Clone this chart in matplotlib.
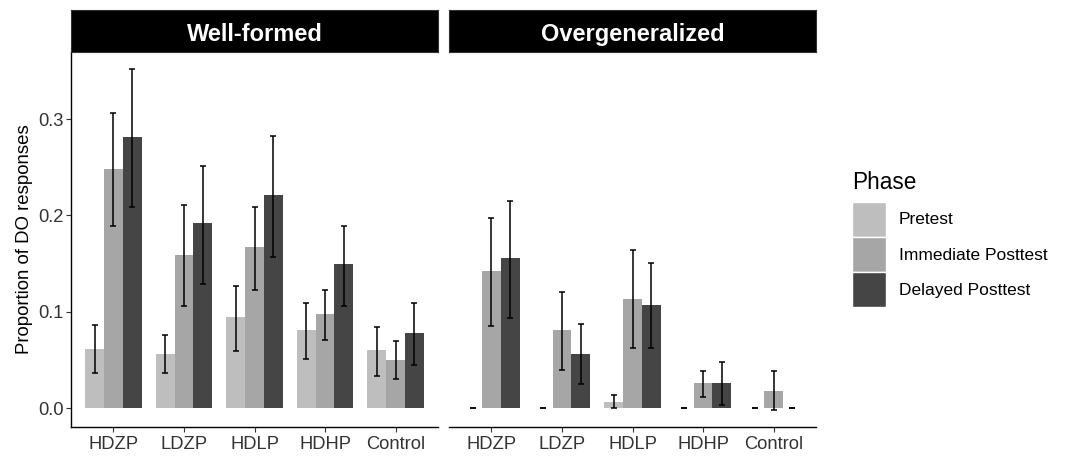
import matplotlib
matplotlib.use("Agg")
import matplotlib.pyplot as plt
from matplotlib.patches import Patch
import numpy as np

plt.rcParams['font.family'] = ['Liberation Sans', 'DejaVu Sans']

categories = ["HDZP", "LDZP", "HDLP", "HDHP", "Control"]
phases = ["Pretest", "Immediate Posttest", "Delayed Posttest"]
panels = ["Well-formed", "Overgeneralized"]
colors = ["#BEBEBE", "#A6A6A6", "#454545"]

# Well-formed: mean, lower, upper per phase
wf_mean = {
    "Pretest":            [0.0615, 0.0566, 0.0942, 0.0809, 0.0598],
    "Immediate Posttest": [0.2485, 0.1588, 0.1672, 0.0973, 0.0500],
    "Delayed Posttest":   [0.2815, 0.1919, 0.2207, 0.1491, 0.0778],
}
wf_low = {
    "Pretest":            [0.0365, 0.0365, 0.0594, 0.0507, 0.0330],
    "Immediate Posttest": [0.1890, 0.1064, 0.1226, 0.0705, 0.0298],
    "Delayed Posttest":   [0.2085, 0.1289, 0.1567, 0.1064, 0.0444],
}
wf_high = {
    "Pretest":            [0.0858, 0.0757, 0.1262, 0.1095, 0.0837],
    "Immediate Posttest": [0.3066, 0.2106, 0.2089, 0.1226, 0.0691],
    "Delayed Posttest":   [0.3520, 0.2516, 0.2822, 0.1890, 0.1095],
}
# Overgeneralized
og_mean = {
    "Pretest":            [0.0, 0.0, 0.0063, 0.0, 0.0],
    "Immediate Posttest": [0.1428, 0.0809, 0.1132, 0.0257, 0.0177],
    "Delayed Posttest":   [0.1560, 0.0566, 0.1074, 0.0257, 0.0],
}
og_low = {
    "Pretest":            [0.0, 0.0, 0.0, 0.0, 0.0],
    "Immediate Posttest": [0.0851, 0.0396, 0.0622, 0.0118, -0.002],
    "Delayed Posttest":   [0.0931, 0.0250, 0.0622, 0.0034, 0.0],
}
og_high = {
    "Pretest":            [0.0, 0.0, 0.0136, 0.0, 0.0],
    "Immediate Posttest": [0.1974, 0.1210, 0.1637, 0.0382, 0.0382],
    "Delayed Posttest":   [0.2154, 0.0872, 0.1502, 0.0483, 0.0],
}
yticks = [0.0, 0.1, 0.2, 0.3]
ytick_labels = ["0.0", "0.1", "0.2", "0.3"]

W, H = 1067, 457
fig = plt.figure(figsize=(W / 100, H / 100), dpi=100)

def fx(px):
    return px / W

def fy(py):
    return 1 - py / H

panel_x = [(71, 438), (449, 816)]
top, bottom, strip_top = 52, 427, 10
txt_color = "#333333"
tick_fs = 13.2

data_sets = [(wf_mean, wf_low, wf_high), (og_mean, og_low, og_high)]
bw = 0.8 / 3
x = np.arange(1, len(categories) + 1)

for pi, (name, (x0, x1)) in enumerate(zip(panels, panel_x)):
    ax = fig.add_axes([fx(x0), fy(bottom), fx(x1 - x0), (bottom - top) / H])
    means, lows, highs = data_sets[pi]
    for j, ph in enumerate(phases):
        xs = x + (j - 1) * bw
        m = np.array(means[ph])
        lo = np.array(lows[ph])
        hi = np.array(highs[ph])
        ax.bar(xs, m, width=bw, color=colors[j], linewidth=0, zorder=2)
        ax.errorbar(xs, m, yerr=[m - lo, hi - m], fmt="none", ecolor="black",
                    elinewidth=1.1, capsize=2.0, capthick=1.1, zorder=3)
    ax.set_xlim(0.4, 5.6)
    ax.set_ylim(-0.0197, 0.3697)
    ax.set_xticks(x)
    ax.set_xticklabels(categories, fontsize=tick_fs, color=txt_color)
    for s in ["top", "right"]:
        ax.spines[s].set_visible(False)
    ax.spines["bottom"].set_color("black")
    ax.spines["bottom"].set_linewidth(1.0)
    ax.tick_params(axis="x", length=3.3, width=0.8, color=txt_color, pad=3.2)
    if pi == 0:
        ax.set_yticks(yticks)
        ax.set_yticklabels(ytick_labels, fontsize=tick_fs, color=txt_color)
        ax.tick_params(axis="y", length=3.3, width=0.8, color=txt_color, pad=2)
        ax.spines["left"].set_color("black")
        ax.spines["left"].set_linewidth(1.0)
        ax.set_ylabel("Proportion of DO responses", fontsize=13.4, color="black", labelpad=4)
    else:
        ax.spines["left"].set_visible(False)
        ax.set_yticks([])
    # strip
    sax = fig.add_axes([fx(x0), fy(top), fx(x1 - x0), (top - strip_top) / H])
    sax.set_facecolor("black")
    sax.set_xticks([])
    sax.set_yticks([])
    for s in sax.spines.values():
        s.set_color("#333333")
    sax.text(0.5, 0.262, name, transform=sax.transAxes, ha="center", va="baseline",
             color="white", fontsize=17, fontweight="bold")

handles = [Patch(facecolor=c, edgecolor="white", linewidth=1.0) for c in colors]
leg = fig.legend(handles, phases, loc="upper left",
                 bbox_to_anchor=(fx(845), fy(164)), frameon=False,
                 title="Phase", title_fontsize=16.3, fontsize=12.5,
                 handlelength=1.96, handleheight=2.75, labelspacing=0.0,
                 handletextpad=0.75, alignment="left", borderaxespad=0,
                 borderpad=0.4)
leg._legend_box.sep = 5.5

fig.savefig("out.png", dpi=100)
